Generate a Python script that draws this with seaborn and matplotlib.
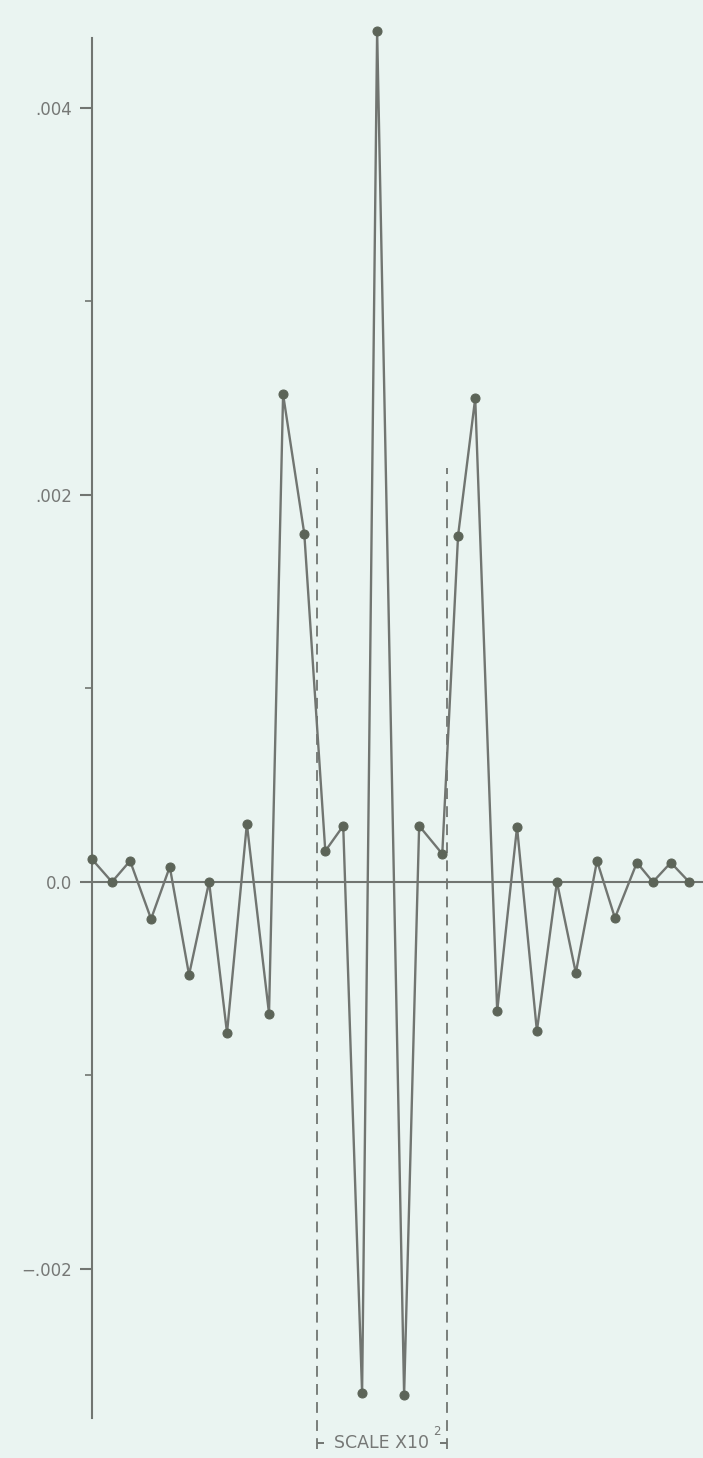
import matplotlib
matplotlib.use("Agg")
import matplotlib.pyplot as plt
import numpy as np
import pandas as pd
import seaborn as sns

# Sample positions (uniform-ish spacing along the abscissa) and response values
position = [0.00, 1.05, 1.99, 3.08, 4.05, 5.05, 6.09, 7.02, 8.05, 9.20,
            9.93, 11.03, 12.12, 13.05, 14.03, 14.81, 16.21, 16.99, 18.19, 19.01,
            19.90, 21.04, 22.07, 23.10, 24.14, 25.12, 26.22, 27.15, 28.29, 29.12,
            30.05, 31.00]
response = [0.000119, 0.0, 0.000109, -0.000191, 0.000078, -0.00048, 0.0, -0.00078,
            0.00030, -0.00068, 0.00252, 0.00180, 0.00016, 0.00029, -0.00264, 0.00440,
            -0.00265, 0.00029, 0.000145, 0.00179, 0.00250, -0.000667, 0.000284, -0.00077,
            0.0, -0.00047, 0.000109, -0.000186, 0.00010, 0.0, 0.00010, 0.0]

# Axis ticks
tick_values = [0.004, 0.002, 0.0, -0.002]
tick_labels = [".004", ".002", "0.0", "\u2212.002"]
minor_values = [0.003, 0.001, -0.001]

# Bracketed region drawn at a different scale
scale_edges = [11.69, 18.44]
scale_top = 0.00214
scale_bottom = -0.00290
scale_text = "SCALE X10"
scale_power = "2"

sns.set_theme(style="white")
plt.rcParams["font.family"] = ["DejaVu Sans"]

bg = "#eaf4f1"
line_color = "#717571"
dot_color = "#5c6458"
text_color = "#767876"

fig = plt.figure(figsize=(7.03, 14.58), dpi=100)
fig.patch.set_facecolor(bg)
ax = fig.add_axes([0, 0, 1, 1])
ax.set_facecolor(bg)

df = pd.DataFrame({"position": position, "response": response})
sns.lineplot(data=df, x="position", y="response", sort=False, ax=ax,
             color=line_color, linewidth=1.7, marker="o", markersize=6.5,
             markerfacecolor=dot_color, markeredgecolor=dot_color, zorder=3)
ax.set_xlabel("")
ax.set_ylabel("")

# Dashed boundaries of the rescaled region, closed by small bracket ends
ax.vlines(scale_edges, scale_bottom - 0.00003, scale_top, colors=line_color,
          linestyles=(0, (6, 4)), linewidth=1.3, zorder=2)
stub = 0.35
ax.hlines(scale_bottom, scale_edges[0], scale_edges[0] + stub, colors=line_color, linewidth=1.4)
ax.hlines(scale_bottom, scale_edges[1] - stub, scale_edges[1], colors=line_color, linewidth=1.4)
ax.text(12.55, scale_bottom, scale_text, ha="left", va="center",
        fontsize=12.5, color=text_color)
ax.text(17.93, scale_bottom + 0.00006, scale_power, ha="center",
        va="center", fontsize=8.5, color=text_color)

ax.set_xlim(-4.76, 31.72)
ax.set_ylim(-0.002977, 0.004558)

# Axis lines through the origin
for side in ("top", "right"):
    ax.spines[side].set_visible(False)
ax.spines["left"].set_position(("data", 0))
ax.spines["left"].set_bounds(-0.00277, 0.00436)
ax.spines["bottom"].set_position(("data", 0))
ax.spines["bottom"].set_bounds(0, 31.72)
for side in ("left", "bottom"):
    ax.spines[side].set_color(line_color)
    ax.spines[side].set_linewidth(1.5)

ax.set_xticks([])
ax.set_yticks(tick_values)
ax.set_yticklabels(tick_labels)
ax.set_yticks(minor_values, minor=True)
ax.tick_params(axis="y", which="major", direction="out", length=9, width=1.5,
               color=line_color, labelcolor=text_color, labelsize=12, pad=5,
               left=True)
ax.tick_params(axis="y", which="minor", direction="out", length=5, width=1.2,
               color=line_color, left=True)
ax.grid(False)

fig.savefig("out.png", dpi=100, facecolor=bg)
